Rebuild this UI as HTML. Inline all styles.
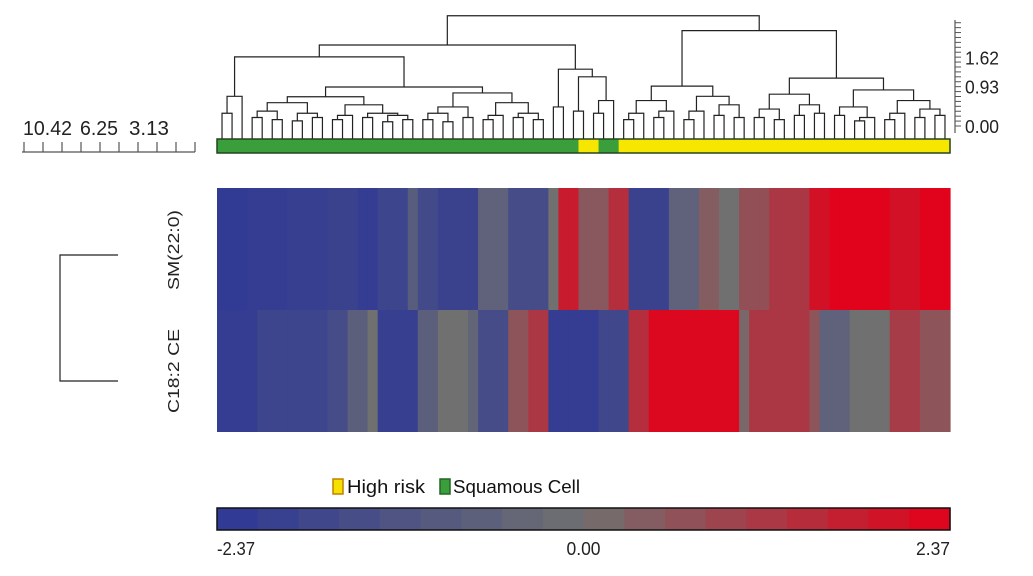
<!DOCTYPE html>
<html><head><meta charset="utf-8">
<style>
body{margin:0;background:#fff;}
svg{display:block;font-family:"Liberation Sans Narrow","Liberation Sans",sans-serif;}
</style></head>
<body>
<svg id="chart" width="1033" height="576" viewBox="0 0 1033 576">
<g id="dendro" stroke="#222" stroke-width="1.2" fill="none"></g>
<g id="groupbar"></g>
<g id="heat"></g>
<g id="rightaxis"></g>
<g id="leftruler"></g>
<g stroke="#222" stroke-width="1.2" fill="none">
  <path d="M118 255 H60 V381 H118"/>
</g>
<text transform="translate(179,250) rotate(-90)" text-anchor="middle" font-size="16" textLength="80" lengthAdjust="spacingAndGlyphs" fill="#222">SM(22:0)</text>
<text transform="translate(179,371) rotate(-90)" text-anchor="middle" font-size="16" textLength="84" lengthAdjust="spacingAndGlyphs" fill="#222">C18:2 CE</text>
<g>
  <rect x="333" y="479" width="10" height="15" fill="#f5e000" stroke="#c08000" stroke-width="1.5"/>
  <text x="347" y="493" font-size="18" textLength="78" lengthAdjust="spacingAndGlyphs" fill="#111">High risk</text>
  <rect x="440" y="479" width="10" height="15" fill="#3a9e3a" stroke="#226622" stroke-width="1.5"/>
  <text x="453" y="493" font-size="18" textLength="127" lengthAdjust="spacingAndGlyphs" fill="#111">Squamous Cell</text>
</g>
<g id="cbar"></g>
</svg>
<script>
const rowNames = ["SM(22:0)", "C18:2 CE"];
const row1Values = [-2.2,-2.2,-2.2,-2.1,-2.1,-2.1,-2.1,-2.0,-2.0,-2.0,-2.0,-1.9,-1.9,-1.9,-2.1,-2.1,-1.8,-1.8,-1.8,-0.8,-1.6,-1.6,-1.9,-1.9,-1.9,-1.9,-0.6,-0.6,-0.6,-1.5,-1.5,-1.5,-1.5,0,1.8,1.8,0.5,0.5,0.5,1.4,1.4,-1.9,-1.9,-1.9,-1.9,-0.6,-0.6,-0.6,0.4,0.4,0,0,0.7,0.7,0.7,1.2,1.2,1.2,1.2,2.0,2.0,2.3,2.3,2.3,2.3,2.3,2.3,2.0,2.0,2.0,2.3,2.3,2.3];
const row2Values = [-2.1,-2.1,-2.1,-2.1,-1.8,-1.8,-1.8,-1.8,-1.8,-1.8,-1.8,-1.5,-1.5,-0.7,-0.7,0,-2.0,-2.0,-2.0,-2.0,-0.7,-0.7,0,0,0,-0.5,-1.5,-1.5,-1.5,0.6,0.6,1.2,1.2,-2.1,-2.1,-2.1,-2.1,-2.1,-1.7,-1.7,-1.7,1.4,1.4,2.2,2.2,2.2,2.2,2.2,2.2,2.2,2.2,2.2,0.2,1.2,1.2,1.2,1.2,1.2,1.2,0.6,-0.6,-0.6,-0.6,0,0,0,0,1.1,1.1,1.1,0.6,0.6,0.6];
const sampleGroups = "SSSSSSSSSSSSSSSSSSSSSSSSSSSSSSSSSSSSHHSSHHHHHHHHHHHHHHHHHHHHHHHHHHHHHHHHH".split("");
const heightTicks = [0.00, 0.93, 1.62];
const rulerLabels = ["10.42", "6.25", "3.13"];
const scaleLabels = ["-2.37", "0.00", "2.37"];
const vmax = 2.37;
// dendrogram tree: [height, left, right] or leaf index
const A=[0.7,[0.3,0,1],2];
const B1=[0.69,[0.55,[0.35,[0.2,3,4],[0.15,5,6]],[0.3,[0.12,7,8],[0.2,9,10]]],[0.5,[0.25,[0.15,11,12],13],[0.3,[0.2,14,15],[0.25,[0.1,16,17],[0.15,18,19]]]]];
const B2=[0.78,[0.45,[0.3,[0.15,20,21],[0.1,22,23]],[0.2,24,25]],[0.55,[0.25,[0.15,26,27],28],[0.3,[0.2,29,30],[0.15,31,32]]]];
const Mc=[1.34,[0.45,33,34],[1.16,[0.35,35,36],[0.6,[0.3,37,38],39]]];
const R1=[0.94,[0.6,[0.3,[0.15,40,41],42],[0.35,[0.2,43,44],45]],[0.7,[0.35,[0.15,46,47],48],[0.5,[0.25,49,50],[0.2,51,52]]]];
const R2=[1.13,[0.75,[0.4,[0.2,53,54],[0.15,55,56]],[0.5,[0.25,57,58],[0.3,59,60]]],[0.85,[0.45,[0.25,61,62],[0.2,[0.12,63,64],65]],[0.6,[0.3,[0.15,66,67],68],[0.4,[0.2,69,70],[0.25,71,72]]]]];
const tree=[2.6,[1.91,[1.63,A,[0.92,B1,B2]],Mc],[2.25,R1,R2]];

const NS="http://www.w3.org/2000/svg";
const X0=217,X1=950,N=row1Values.length,CW=(X1-X0)/N;
const xCol=i=>X0+i*CW;
const yH=h=>126-h*42.4;
function mk(tag,attrs,parent){const e=document.createElementNS(NS,tag);for(const k in attrs)e.setAttribute(k,attrs[k]);parent.appendChild(e);return e;}
function color(v){
  const t=Math.max(-1,Math.min(1,v/vmax));
  const g=[112,112,112],b=[45,55,150],r=[228,0,25];
  const c=t<0?b:r,a=Math.abs(t);
  return `rgb(${g.map((x,i)=>Math.round(x+(c[i]-x)*a)).join(",")})`;
}
// heatmap
const heat=document.getElementById('heat');
[row1Values,row2Values].forEach((vals,r)=>{
  vals.forEach((v,i)=>{
    const el=mk('rect',{x:xCol(i),y:188+r*122,width:CW+0.6,height:122,fill:color(v)},heat);
    
    
  });
});
// group bar
const gb=document.getElementById('groupbar');
sampleGroups.forEach((g,i)=>{
  const el=mk('rect',{x:xCol(i),y:139,width:CW+0.6,height:14,fill:g==='H'?'#f7e600':'#3a9e3a'},gb);
  
  
});
mk('rect',{x:X0,y:139,width:X1-X0,height:14,fill:'none',stroke:'#224422','stroke-width':1.5},gb);
// dendrogram
const dg=document.getElementById('dendro');
function draw(n){
  if(typeof n==='number') return {x:xCol(n)+CW/2,y:139};
  const l=draw(n[1]),r=draw(n[2]),y=yH(n[0]);
  const p=mk('path',{d:`M${l.x} ${l.y} V${y} H${r.x} V${r.y}`},dg);
  
  
  return {x:(l.x+r.x)/2,y:y};
}
draw(tree);
// right axis
const ra=document.getElementById('rightaxis');
mk('line',{x1:955,y1:20,x2:955,y2:133,stroke:'#555','stroke-width':1.2},ra);
for(let h=0;h<=2.5;h+=0.116){mk('line',{x1:955,y1:yH(h),x2:961,y2:yH(h),stroke:'#555','stroke-width':1},ra);}
heightTicks.forEach(t=>{
  const tx=mk('text',{x:965,y:yH(t)+7,'font-size':18,textLength:34,lengthAdjust:'spacingAndGlyphs',fill:'#222'},ra);
  tx.textContent=t.toFixed(2);
  
  
});
// left ruler
const lr=document.getElementById('leftruler');
mk('line',{x1:22,y1:152,x2:195,y2:152,stroke:'#555','stroke-width':1.2},lr);
for(let k=0;k<10;k++){const x=24+k*19;mk('line',{x1:x,y1:152,x2:x,y2:142,stroke:'#555','stroke-width':1.2},lr);}
[[23,49],[80,38],[129,40]].forEach((p,i)=>{
  const tx=mk('text',{x:p[0],y:135,'font-size':20,textLength:p[1],lengthAdjust:'spacingAndGlyphs',fill:'#222'},lr);
  tx.textContent=rulerLabels[i];
  
  
});
// color bar
const cb=document.getElementById('cbar');
const steps=18;
for(let k=0;k<steps;k++){
  const v=-vmax+(k+0.5)*2*vmax/steps;
  mk('rect',{x:X0+k*(X1-X0)/steps,y:508,width:(X1-X0)/steps+0.6,height:22,fill:color(v)},cb);
}
mk('rect',{x:X0,y:508,width:X1-X0,height:22,fill:'none',stroke:'#111','stroke-width':1.5},cb);
[[X0,'start'],[(X0+X1)/2,'middle'],[X1,'end']].forEach((p,i)=>{
  const tx=mk('text',{x:p[0],y:555,'text-anchor':p[1],'font-size':18,textLength:i==0?38:34,lengthAdjust:'spacingAndGlyphs',fill:'#222'},cb);
  tx.textContent=scaleLabels[i];
  
  
});
</script>
</body></html>
